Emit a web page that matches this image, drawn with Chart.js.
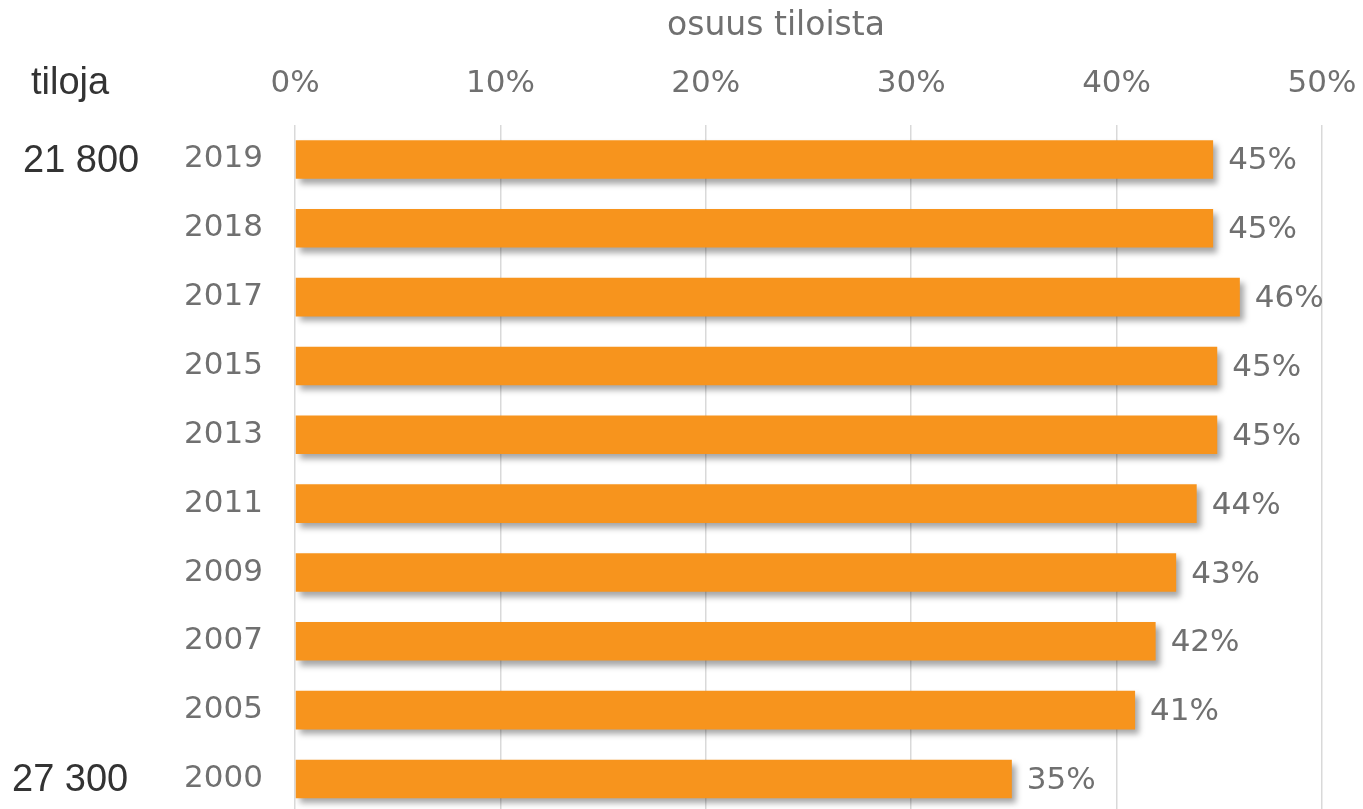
<!DOCTYPE html>
<html>
<head>
<meta charset="utf-8">
<script src="https://cdn.jsdelivr.net/npm/chart.js@4"></script>
<style>
  html, body { margin: 0; padding: 0; background: #fff; overflow: hidden; }
  #wrap { width: 1363px; height: 864px; }
</style>
</head>
<body>
<div id="wrap"><canvas id="chart"></canvas></div>
<script>
// data
const years  = ['2019', '2018', '2017', '2015', '2013', '2011', '2009', '2007', '2005', '2000'];
const shares = [44.7, 44.7, 46.0, 44.9, 44.9, 43.9, 42.9, 41.9, 40.9, 34.9];
const xTicks = [0, 10, 20, 30, 40, 50];
const farmCounts = { '2019': '21 800', '2000': '27 300' };

const GREY   = '#707070';
const ORANGE = '#F7941D';
const tickFont = { family: 'DejaVu Sans', size: 31 };

// — drop shadow under the bars —
const barShadow = {
  id: 'barShadow',
  beforeDatasetDraw(chart) {
    const c = chart.ctx;
    c.save();
    c.shadowColor = 'rgba(0,0,0,0.35)';
    c.shadowBlur = 6;
    c.shadowOffsetX = 4;
    c.shadowOffsetY = 5;
  },
  afterDatasetDraw(chart) {
    chart.ctx.restore();
  }
};

// — value labels, title, farm counts —
const extras = {
  id: 'extras',
  afterDatasetsDraw(chart) {
    const c = chart.ctx;
    const meta = chart.getDatasetMeta(0);
    const y = chart.scales.y;
    c.save();
    c.font = '31px "DejaVu Sans"';
    c.fillStyle = GREY;
    c.textAlign = 'left';
    c.textBaseline = 'middle';
    meta.data.forEach((bar, i) => {
      c.fillText(Math.round(shares[i]) + '%', bar.x + 15, bar.y + 2);
    });

    // axis title
    c.textAlign = 'center';
    c.font = '33px "DejaVu Sans"';
    c.fillText('osuus tiloista', 776, 26);

    // left column
    c.fillStyle = '#333';
    c.font = '38px "Liberation Sans"';
    c.textAlign = 'left';
    c.fillText('tiloja', 31, 84);
    years.forEach((yr, i) => {
      if (farmCounts[yr]) c.fillText(farmCounts[yr], 12 + (yr === '2019' ? 11 : 0), y.getPixelForValue(i) + 2);
    });
    c.restore();
  }
};

new Chart(document.getElementById('chart'), {
  type: 'bar',
  data: {
    labels: years,
    datasets: [{
      data: shares,
      backgroundColor: ORANGE,
      borderWidth: 0,
      categoryPercentage: 1,
      barPercentage: 0.56
    }]
  },
  options: {
    indexAxis: 'y',
    responsive: true,
    maintainAspectRatio: false,
    animation: false,
    layout: { padding: { left: 0, right: 41, top: 0, bottom: 0 } },
    plugins: { legend: { display: false }, tooltip: { enabled: false } },
    scales: {
      x: {
        position: 'top',
        min: 0, max: 50,
        afterBuildTicks: s => { s.ticks = xTicks.map(v => ({ value: v })); },
        afterFit: s => { s.height = 125; s.paddingLeft = 0; s.paddingRight = 0; },
        border: { display: false },
        grid: { color: '#d9d9d9', lineWidth: 1.5, drawTicks: false },
        ticks: { color: GREY, font: tickFont, padding: 22, callback: v => v + '%' }
      },
      y: {
        afterFit: s => { s.width = 295; },
        border: { display: false },
        grid: { display: false, drawTicks: false },
        ticks: { color: GREY, font: tickFont, padding: 32 }
      }
    }
  },
  plugins: [barShadow, extras]
});
</script>
</body>
</html>
